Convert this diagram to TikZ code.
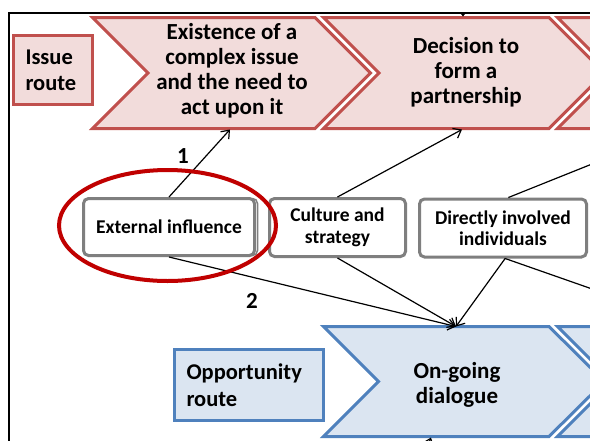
\documentclass[tikz,border=0pt]{standalone}
\usepackage{fontspec}
\setmainfont{Carlito}
\usetikzlibrary{arrows.meta}
\definecolor{pinkfill}{HTML}{F2DCDB}
\definecolor{pinkline}{HTML}{C0504D}
\definecolor{bluefill}{HTML}{DBE5F1}
\definecolor{blueline}{HTML}{4F81BD}
\definecolor{ringred}{HTML}{C00000}
\definecolor{boxgray}{HTML}{7F7F7F}
\tikzset{
  pinkchev/.style={fill=pinkfill, draw=pinkline, line width=3pt, line join=miter},
  bluechev/.style={fill=bluefill, draw=blueline, line width=3pt, line join=miter},
  chevtext/.style={align=center, inner sep=0pt, font=\bfseries\fontsize{23}{25}\selectfont},
  issuebox/.style={fill=pinkfill, draw=pinkline, line width=3pt, align=left, inner xsep=12pt, inner ysep=0pt, font=\bfseries\fontsize{22.5}{26}\selectfont},
  oppbox/.style={fill=bluefill, draw=blueline, line width=3pt, align=left, inner xsep=12pt, inner ysep=0pt, font=\bfseries\fontsize{22.5}{27}\selectfont},
  factor/.style={draw=boxgray, fill=white, line width=3pt, rounded corners=5pt, align=center, inner sep=0pt, font=\bfseries\fontsize{19.5}{21.5}\selectfont},
  arr/.style={draw=black, line width=1.2pt, -{Straight Barb[length=7pt,width=11pt]}},
  plain/.style={draw=black, line width=1.2pt},
  numlabel/.style={inner sep=0pt, font=\bfseries\fontsize{23}{23}\selectfont},
  ring/.style={draw=ringred, line width=4pt}
}
\begin{document}
\begin{tikzpicture}[x=1pt,y=-1pt]
\useasboundingbox (0,0) rectangle (590,440);
\fill[white] (0,0) rectangle (590,440);
\begin{scope}
\clip (9,13) rectangle (590,440);

% pink row chevrons
\draw[pinkchev] (92.5,17.5) -- (315,17.5) -- (370.5,73) -- (315,128.5) -- (92.5,128.5) -- (148,73) -- cycle;
\draw[pinkchev] (323.5,17.5) -- (549,17.5) -- (604.5,73) -- (549,128.5) -- (323.5,128.5) -- (379,73) -- cycle;
\draw[pinkchev] (557.5,17.5) -- (783,17.5) -- (838.5,73) -- (783,128.5) -- (557.5,128.5) -- (613,73) -- cycle;
% blue row chevrons
\draw[bluechev] (323.5,326.5) -- (549,326.5) -- (604.5,381.5) -- (549,436.5) -- (323.5,436.5) -- (378.5,381.5) -- cycle;
\draw[bluechev] (557.5,326.5) -- (783,326.5) -- (838.5,381.5) -- (783,436.5) -- (557.5,436.5) -- (612.5,381.5) -- cycle;

\node[chevtext] (exist) at (232,70.5) {Existence of a\\complex issue\\and the need to\\act upon it};
\node[chevtext] (decide) at (466,72) {Decision to\\form a\\partnership};
\node[chevtext] (dialog) at (457,385) {On-going\\dialogue};

\node[issuebox, minimum width=79pt, minimum height=69pt, text width=55pt] (issue) at (53,70) {Issue\\route};
\node[oppbox, minimum width=149pt, minimum height=71pt, text width=125pt] (opp) at (249,385) {Opportunity\\route};

% factor boxes
\draw[boxgray, line width=1.5pt, rounded corners=5pt] (86,198.5) rectangle (257.5,255.5);
\node[factor, minimum width=171pt, minimum height=57pt] (ext) at (169,227) {External influence};
\node[factor, minimum width=136pt, minimum height=58pt] (cul) at (337.5,227.5) {Culture and\\strategy};
\node[factor, minimum width=167pt, minimum height=58pt] (dir) at (503,228) {Directly involved\\individuals};

% connector end points
\coordinate (existin) at (230,129.5);
\coordinate (decidein) at (462,129.5);
\coordinate (dialogin) at (456,326.5);
\coordinate (nextup) at (677,130);
\coordinate (nextdown) at (695,325);
\coordinate (topsrc) at (463,-30);
\coordinate (decidetop) at (463,16.5);
\coordinate (botsrc) at (415,480);
\coordinate (dialogbot) at (431,437.5);

\draw[arr] (ext.north) -- (existin);
\draw[arr] (cul.north) -- (decidein);
\draw[plain] (dir.80) -- (nextup);
\draw[arr] (ext.south) -- (dialogin);
\draw[arr] (cul.south) -- (dialogin);
\draw[arr] (dir.-86) -- (dialogin);
\draw[plain] (dir.-86) -- (nextdown);
\draw[arr] (topsrc) -- (decidetop);
\draw[arr] (botsrc) -- (dialogbot);

\node[numlabel] (one) at (183,156) {1};
\node[numlabel] (two) at (252,301) {2};

\draw[ring] (167.5,225.5) ellipse [x radius=108.5pt, y radius=55.5pt];
\end{scope}

% frame
\draw[black, line width=2pt] (9,445) -- (9,13) -- (595,13);
\end{tikzpicture}
\end{document}
